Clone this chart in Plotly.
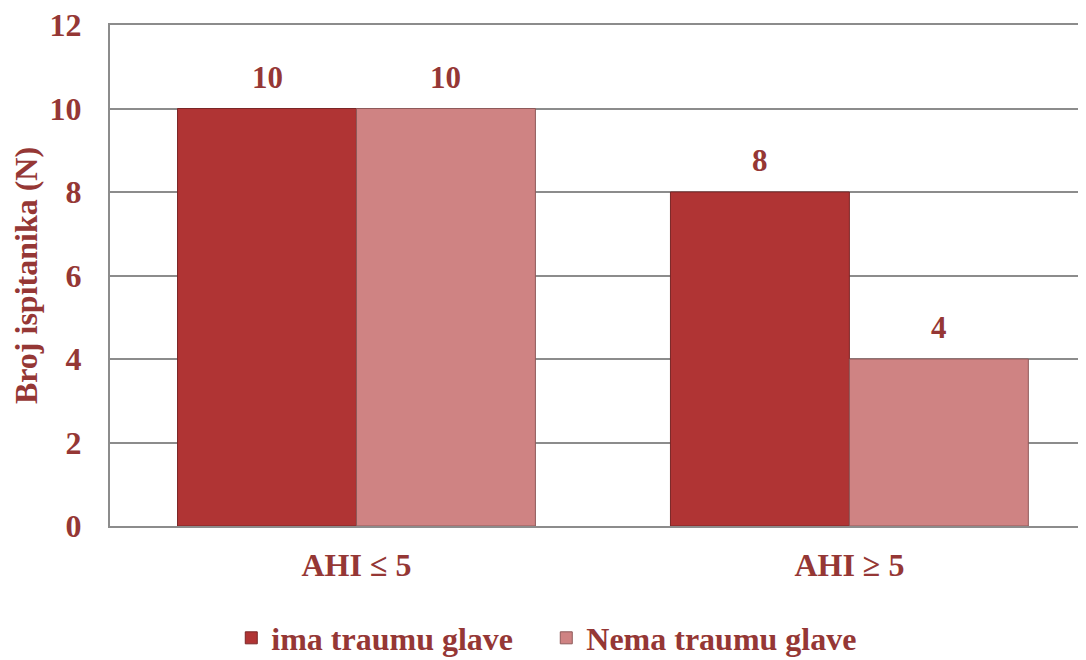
import plotly.graph_objects as go

categories = ["AHI ≤ 5", "AHI ≥ 5"]
ima_traumu = [10, 8]
nema_traumu = [10, 4]
series_names = ["ima traumu glave", "Nema traumu glave"]
y_ticks = [0, 2, 4, 6, 8, 10, 12]

TXT = "#953735"
FONT = "Liberation Serif, Times New Roman, serif"

fig = go.Figure()
fig.add_trace(go.Bar(
    x=categories, y=ima_traumu, name=series_names[0], offsetgroup="a",
    marker=dict(color="#B03434", line=dict(color="#7A2626", width=1)),
))
fig.add_trace(go.Bar(
    x=categories, y=nema_traumu, name=series_names[1], offsetgroup="b",
    marker=dict(color="#CF8383", line=dict(color="#8E5A5A", width=1)),
))

# value labels above bars (positioned via data coordinates)
BAR_OFFSET = (1 - 0.274) / 4
for vals, off in ((ima_traumu, -BAR_OFFSET), (nema_traumu, BAR_OFFSET)):
    for i, v in enumerate(vals):
        fig.add_annotation(
            x=i + off, y=v, xref="x", yref="y", text=f"<b>{v}</b>",
            showarrow=False, yanchor="bottom", yshift=12,
            font=dict(family=FONT, size=31, color=TXT),
        )

fig.update_layout(
    width=1078, height=660,
    margin=dict(l=102, r=0, t=17, b=142),
    paper_bgcolor="white", plot_bgcolor="white",
    barmode="group", bargap=0.274, bargroupgap=0,
    font=dict(family=FONT, size=32, color=TXT),
    showlegend=True,
    legend=dict(
        orientation="h", x=0.447, xanchor="center", y=-0.2236, yanchor="middle",
        font=dict(family=FONT, size=32, color=TXT, weight="bold"),
        itemwidth=30, traceorder="normal", entrywidth=270,
    ),
    xaxis=dict(
        range=[-0.5, 1.48], showgrid=False, ticks="",
        tickfont=dict(family=FONT, size=32, color=TXT, weight="bold"),
        showline=True, linecolor="#8C8C8C", linewidth=2, mirror=True,
        ticklabelstandoff=10, automargin=False,
    ),
    yaxis=dict(
        range=[0, 12], tickvals=y_ticks, ticktext=[str(v) for v in y_ticks],
        showgrid=True, gridcolor="#8C8C8C", gridwidth=2,
        showline=True, linecolor="#8C8C8C", linewidth=2,
        zeroline=False, ticks="", ticklabeloverflow="allow",
        tickfont=dict(family=FONT, size=32, color=TXT, weight="bold"),
        ticklabelstandoff=20,
        title=dict(text="Broj ispitanika (N)", standoff=14,
                   font=dict(family=FONT, size=32, color=TXT, weight="bold")),
        automargin=False,
    ),
)

fig.write_html("out.html")
